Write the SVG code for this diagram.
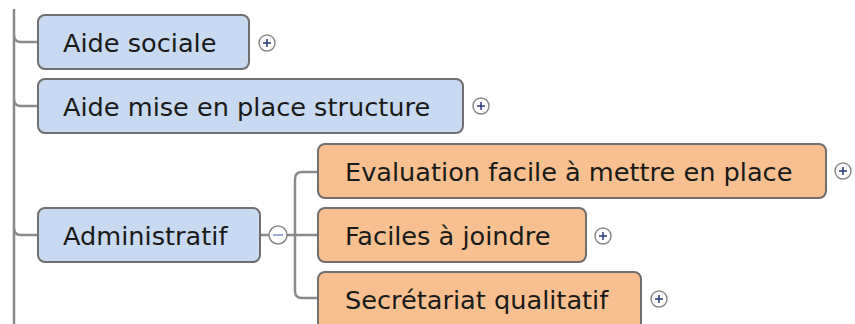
<svg xmlns="http://www.w3.org/2000/svg" width="855" height="324" viewBox="0 0 855 324">
<style>
.box{stroke:#6f6f6f;stroke-width:2}
.blue{fill:#c8daf1}
.orange{fill:#f8c091}
.lbl{font-family:"DejaVu Sans",Verdana,sans-serif;font-size:25.6px;fill:#1a1a1a}
.conn{fill:none;stroke:#8a8a8a;stroke-width:2.5}
.tog{fill:#ffffff;stroke:#8a8a8a;stroke-width:1.5}
.pl{stroke:#2a3a7a;stroke-width:1.5}
</style>
<defs>
<g id="plus"><circle class="tog" r="8"/><path class="pl" d="M-4,0H4M0,-4V4"/></g>
</defs>
<g id="connectors">
<path class="conn" d="M14,9V324"/>
<path class="conn" d="M14,35Q14,42 21,42H38"/>
<path class="conn" d="M14,99Q14,106 21,106H38"/>
<path class="conn" d="M14,228Q14,235 21,235H38"/>
<path class="conn" d="M260,235H269M287,235H318"/>
<path class="conn" d="M318,172H302Q295,172 295,179V291Q295,298 302,298H318"/>
</g>
<g id="n-aide-sociale">
<rect class="box blue" x="38" y="15" width="211" height="54" rx="7"/>
<text class="lbl" x="63" y="52">Aide sociale</text>
<use href="#plus" x="267" y="43"/>
</g>
<g id="n-aide-mise">
<rect class="box blue" x="38" y="79" width="425" height="54" rx="7"/>
<text class="lbl" x="63" y="116">Aide mise en place structure</text>
<use href="#plus" x="481" y="106"/>
</g>
<g id="n-administratif">
<rect class="box blue" x="38" y="208" width="222" height="54" rx="7"/>
<text class="lbl" x="63" y="245">Administratif</text>
<circle class="tog" cx="278" cy="235" r="9"/>
<path d="M273,235H283" stroke="#7b8fd0" stroke-width="1.5"/>
</g>
<g id="n-evaluation">
<rect class="box orange" x="318" y="144" width="508" height="54" rx="7"/>
<text class="lbl" x="345" y="181">Evaluation facile à mettre en place</text>
<use href="#plus" x="843" y="171"/>
</g>
<g id="n-faciles">
<rect class="box orange" x="318" y="208" width="268" height="54" rx="7"/>
<text class="lbl" x="345" y="245">Faciles à joindre</text>
<use href="#plus" x="603" y="236"/>
</g>
<g id="n-secretariat">
<rect class="box orange" x="318" y="272" width="323" height="60" rx="7"/>
<text class="lbl" x="345" y="309">Secrétariat qualitatif</text>
<use href="#plus" x="659" y="299"/>
</g>
</svg>
